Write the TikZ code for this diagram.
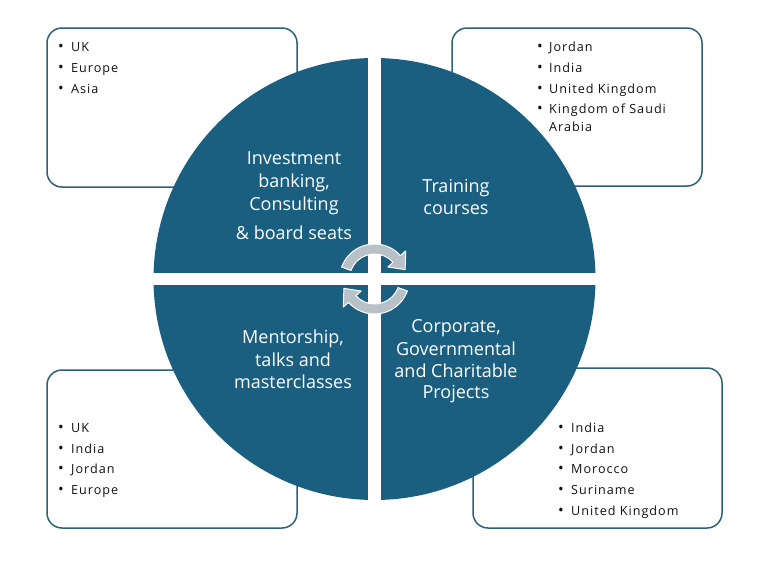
\documentclass[tikz,border=0pt]{standalone}
\usepackage{fontspec}
\setmainfont{Open Sans}
\newfontfamily\listfont[LetterSpace=8]{Open Sans}
\definecolor{disc}{HTML}{1A5F80}
\definecolor{frame}{HTML}{2E6076}
\definecolor{arrowgray}{HTML}{B8C0C8}
\definecolor{ink}{HTML}{111111}
\tikzset{
  box/.style={draw=frame, line width=1.5pt, rounded corners=15pt, fill=white, inner sep=0pt},
  lbl/.style={anchor=base, text=white, inner sep=0pt, font=\fontsize{18}{22}\selectfont},
  item/.style={anchor=base west, text=ink, inner sep=0pt, font=\listfont\fontsize{12.6}{15}\selectfont},
  bul/.style={anchor=base, text=ink, inner sep=0pt, font=\fontsize{15}{15}\selectfont},
  arr/.style={fill=arrowgray, draw=white, line width=1pt, line join=round}
}
\begin{document}
\begin{tikzpicture}[x=1pt, y=-1pt]
\useasboundingbox (0,0) rectangle (763,565);
% boxes
\node[box, minimum width=250pt, minimum height=159pt] (tlbox) at (172,107.5) {};
\node[box, minimum width=250pt, minimum height=158pt] (trbox) at (577,107) {};
\node[box, minimum width=250pt, minimum height=158pt] (blbox) at (172,449) {};
\node[box, minimum width=249pt, minimum height=160pt] (brbox) at (597.5,448) {};
% disc
\node[circle, fill=disc, minimum size=442pt, inner sep=0pt] (disc) at (374.5,279) {};
\fill[white] (368,50) rectangle (381,510);
\fill[white] (145,273) rectangle (605,285);
% circular arrows
\begin{scope}[shift={(374.5,279)}]
\filldraw[arr] (160:35pt) arc[start angle=160, end angle=42, radius=35pt]
  -- (42:42pt) -- (17:32pt) -- (42:18pt) -- (42:25pt)
  arc[start angle=42, end angle=160, radius=25pt] -- cycle;
\filldraw[arr] (-20:35pt) arc[start angle=-20, end angle=-138, radius=35pt]
  -- (-138:42pt) -- (-163:32pt) -- (-138:18pt) -- (-138:25pt)
  arc[start angle=-138, end angle=-20, radius=25pt] -- cycle;
\end{scope}
% quadrant labels
\foreach \t/\yy [count=\i] in {{Investment}/164, {banking,}/187, {Consulting}/210, {\& board seats}/239}
  \node[lbl] (inv\i) at (294,\yy) {\t};
\foreach \t/\yy [count=\i] in {{Training}/192, {courses}/214}
  \node[lbl] (tra\i) at (456,\yy) {\t};
\foreach \t/\yy [count=\i] in {{Mentorship,}/343, {talks and}/366, {masterclasses}/388}
  \node[lbl] (men\i) at (293,\yy) {\t};
\foreach \t/\yy [count=\i] in {{Corporate,}/332, {Governmental}/355, {and Charitable}/377, {Projects}/398}
  \node[lbl] (cor\i) at (456,\yy) {\t};
% lists
\foreach \t/\yy [count=\i] in {UK/51, Europe/72, Asia/93}{
  \node[bul] (tlb\i) at (61,\yy) {•};
  \node[item] (tl\i) at (71,\yy) {\t};}
\foreach \t/\yy [count=\i] in {Jordan/51, India/72, United Kingdom/93, Kingdom of Saudi/113}{
  \node[bul] (trb\i) at (540,\yy) {•};
  \node[item] (tr\i) at (549,\yy) {\t};}
\node[item] (tr5) at (549,131) {Arabia};
\foreach \t/\yy [count=\i] in {UK/432, India/453, Jordan/473, Europe/494}{
  \node[bul] (blb\i) at (61,\yy) {•};
  \node[item] (bl\i) at (71,\yy) {\t};}
\foreach \t/\yy [count=\i] in {India/432, Jordan/453, Morocco/473, Suriname/494, United Kingdom/515}{
  \node[bul] (brb\i) at (561,\yy) {•};
  \node[item] (br\i) at (571,\yy) {\t};}
\end{tikzpicture}
\end{document}
